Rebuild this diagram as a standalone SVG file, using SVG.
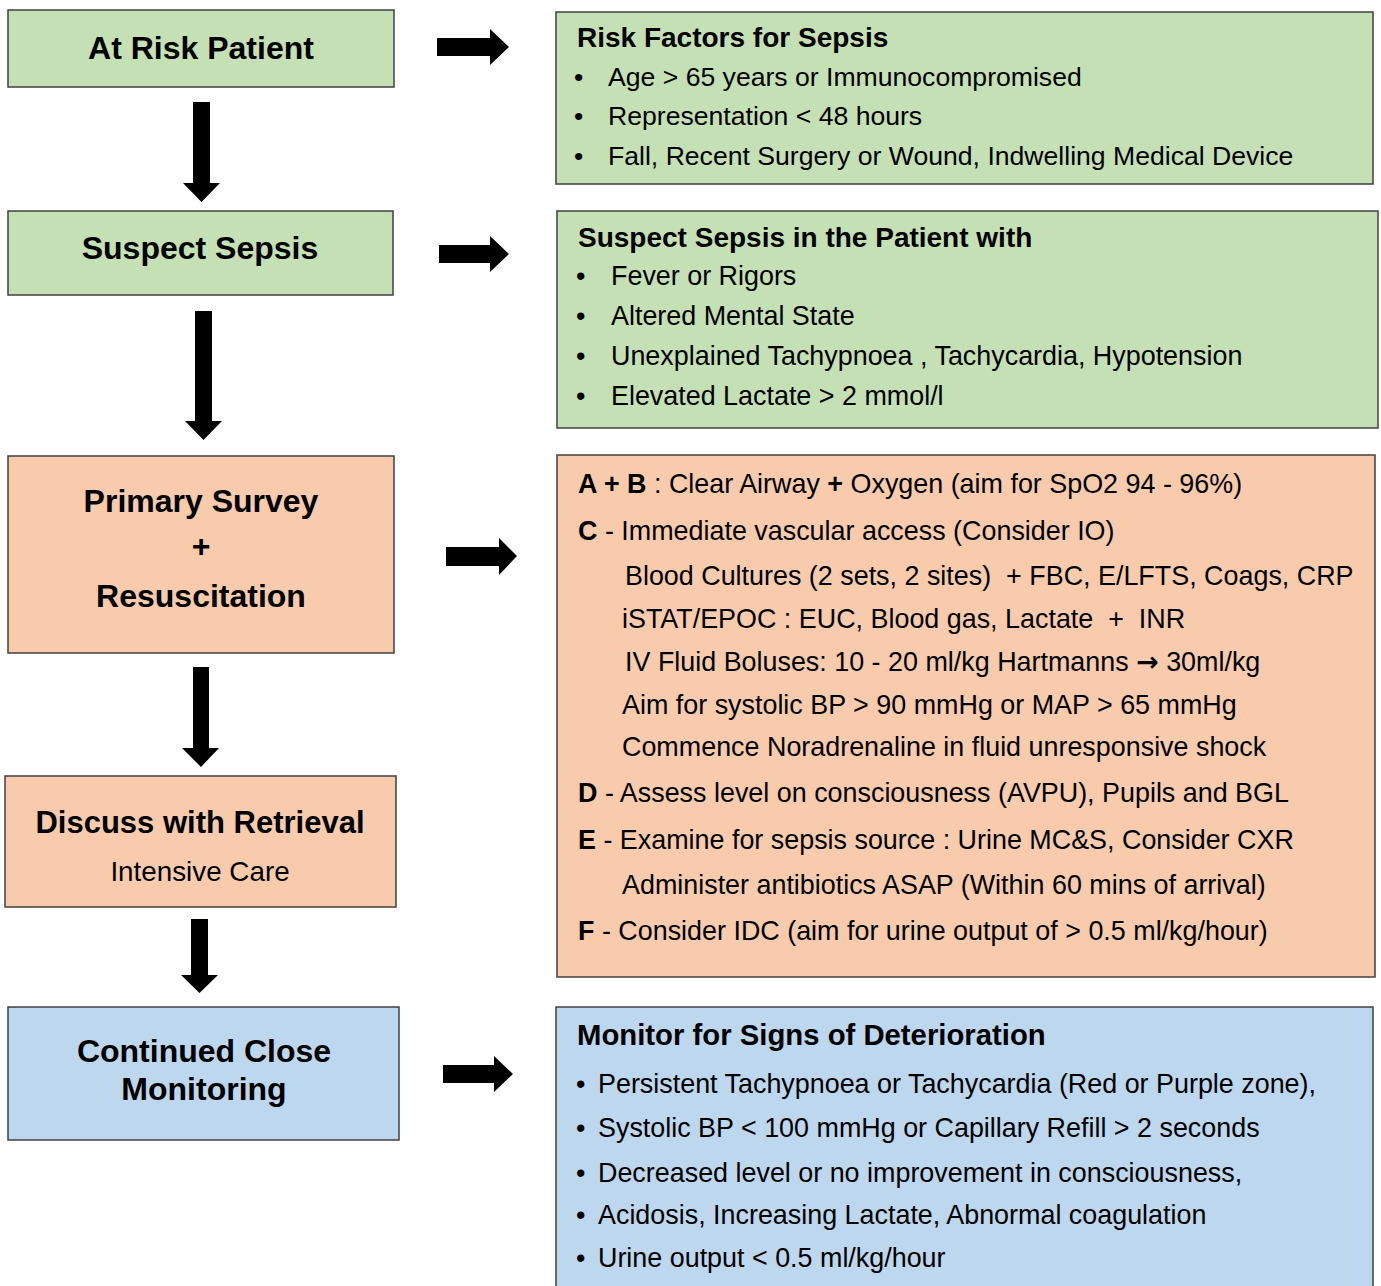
<svg xmlns="http://www.w3.org/2000/svg" width="1381" height="1286" viewBox="0 0 1381 1286">
<style>
  .box { stroke: #404040; stroke-width: 1.5; }
  .green { fill: #c5e0b4; }
  .orange { fill: #f8cbad; }
  .blue { fill: #bdd7ee; }
  text { font-family: "Liberation Sans", Arial, sans-serif; fill: #000; white-space: pre; }
  .lbl { font-size: 32px; font-weight: bold; text-anchor: middle; }
  .sub { font-size: 27.8px; text-anchor: middle; }
  .ttl { font-size: 28px; font-weight: bold; }
  .t { font-size: 26.9px; }
  .t2 { font-size: 26.6px; }
  .b { font-weight: bold; }
  .sym { font-family: "DejaVu Sans", sans-serif; font-weight: bold; }
  .arrow { fill: #000; }
</style>
<rect width="1381" height="1286" fill="#fff"/>

<g id="connectors">
  <path class="arrow" d="M437,38 H490 V29 L509,47 L490,65 V56 H437 Z"/>
  <path class="arrow" d="M439,245 H490 V236 L509,254 L490,272 V263 H439 Z"/>
  <path class="arrow" d="M446,547 H499 V538 L517,556 L499,575 V566 H446 Z"/>
  <path class="arrow" d="M443,1065 H494 V1056 L513,1074 L494,1092 V1083 H443 Z"/>
  <path class="arrow" d="M193,102 H210 V183 H220 L201.5,202 L183,183 H193 Z"/>
  <path class="arrow" d="M195,311 H212 V421 H222 L203.5,440 L185,421 H195 Z"/>
  <path class="arrow" d="M193,667 H209 V748 H219 L201,767 L182,748 H193 Z"/>
  <path class="arrow" d="M191,919 H208 V975 H218 L199.5,993 L181,975 H191 Z"/>
</g>

<g id="at-risk">
  <rect class="box green" x="8" y="10" width="386" height="77"/>
  <text class="lbl" x="201" y="59">At Risk Patient</text>
</g>

<g id="risk-factors">
  <rect class="box green" x="556" y="12" width="817" height="172"/>
  <text class="ttl" x="577" y="47">Risk Factors for Sepsis</text>
  <text class="t2" x="574" y="86">•</text>
  <text class="t2" x="608" y="86">Age &gt; 65 years or Immunocompromised</text>
  <text class="t2" x="574" y="125">•</text>
  <text class="t2" x="608" y="125">Representation &lt; 48 hours</text>
  <text class="t2" x="574" y="165">•</text>
  <text class="t2" x="608" y="165">Fall, Recent Surgery or Wound, Indwelling Medical Device</text>
</g>

<g id="suspect-sepsis">
  <rect class="box green" x="8" y="211" width="385" height="84"/>
  <text class="lbl" x="200" y="259">Suspect Sepsis</text>
</g>

<g id="suspect-signs">
  <rect class="box green" x="557" y="211" width="821" height="217"/>
  <text class="ttl" x="578" y="247">Suspect Sepsis in the Patient with</text>
  <text class="t" x="576" y="285">•</text>
  <text class="t" x="611" y="285">Fever or Rigors</text>
  <text class="t" x="576" y="325">•</text>
  <text class="t" x="611" y="325">Altered Mental State</text>
  <text class="t" x="576" y="365">•</text>
  <text class="t" x="611" y="365">Unexplained Tachypnoea , Tachycardia, Hypotension</text>
  <text class="t" x="576" y="405">•</text>
  <text class="t" x="611" y="405">Elevated Lactate &gt; 2 mmol/l</text>
</g>

<g id="primary-survey">
  <rect class="box orange" x="8" y="456" width="386" height="197"/>
  <text class="lbl" x="201" y="512">Primary Survey</text>
  <text class="lbl" x="201" y="557">+</text>
  <text class="lbl" x="201" y="607">Resuscitation</text>
</g>

<g id="resuscitation-steps">
  <rect class="box orange" x="557" y="455" width="818" height="522"/>
  <text class="t" x="578" y="493"><tspan class="b">A + B</tspan> : Clear Airway <tspan class="b">+</tspan> Oxygen (aim for SpO2 94 - 96%)</text>
  <text class="t" x="578" y="540"><tspan class="b">C</tspan> - Immediate vascular access (Consider IO)</text>
  <text class="t" x="625" y="585">Blood Cultures (2 sets, 2 sites)  + FBC, E/LFTS, Coags, CRP</text>
  <text class="t" x="622" y="628">iSTAT/EPOC : EUC, Blood gas, Lactate  +  INR</text>
  <text class="t" x="625" y="671">IV Fluid Boluses: 10 - 20 ml/kg Hartmanns <tspan class="sym">→</tspan> 30ml/kg</text>
  <text class="t" x="622" y="714">Aim for systolic BP &gt; 90 mmHg or MAP &gt; 65 mmHg</text>
  <text class="t" x="622" y="756">Commence Noradrenaline in fluid unresponsive shock</text>
  <text class="t" x="578" y="802"><tspan class="b">D</tspan> - Assess level on consciousness (AVPU), Pupils and BGL</text>
  <text class="t" x="578" y="849"><tspan class="b">E</tspan> - Examine for sepsis source : Urine MC&amp;S, Consider CXR</text>
  <text class="t" x="622" y="894">Administer antibiotics ASAP (Within 60 mins of arrival)</text>
  <text class="t" x="578" y="940"><tspan class="b">F</tspan> - Consider IDC (aim for urine output of &gt; 0.5 ml/kg/hour)</text>
</g>

<g id="discuss-retrieval">
  <rect class="box orange" x="5" y="776" width="391" height="131"/>
  <text class="lbl" x="200" y="833" style="font-size:31px">Discuss with Retrieval</text>
  <text class="sub" x="200" y="881">Intensive Care</text>
</g>

<g id="continued-monitoring">
  <rect class="box blue" x="8" y="1007" width="391" height="133"/>
  <text class="lbl" x="204" y="1062">Continued Close</text>
  <text class="lbl" x="204" y="1100">Monitoring</text>
</g>

<g id="deterioration-signs">
  <rect class="box blue" x="556" y="1007" width="817" height="290"/>
  <text class="ttl" x="577" y="1045" style="font-size:29.3px">Monitor for Signs of Deterioration</text>
  <text class="t" x="576" y="1093">•</text>
  <text class="t" x="598" y="1093">Persistent Tachypnoea or Tachycardia (Red or Purple zone),</text>
  <text class="t" x="576" y="1137">•</text>
  <text class="t" x="598" y="1137">Systolic BP &lt; 100 mmHg or Capillary Refill &gt; 2 seconds</text>
  <text class="t" x="576" y="1182">•</text>
  <text class="t" x="598" y="1182">Decreased level or no improvement in consciousness,</text>
  <text class="t" x="576" y="1224">•</text>
  <text class="t" x="598" y="1224">Acidosis, Increasing Lactate, Abnormal coagulation</text>
  <text class="t" x="576" y="1267">•</text>
  <text class="t" x="598" y="1267">Urine output &lt; 0.5 ml/kg/hour</text>
</g>
</svg>
